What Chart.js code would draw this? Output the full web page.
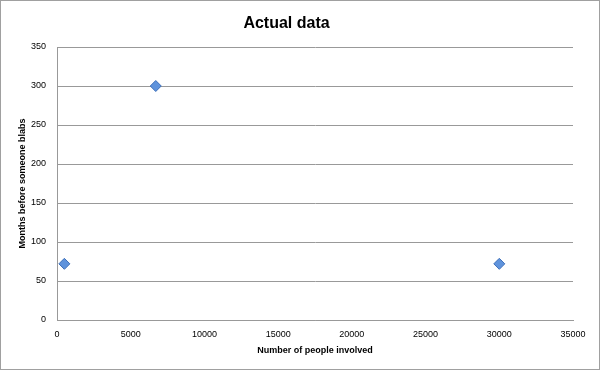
<!DOCTYPE html>
<html>
<head>
<meta charset="utf-8">
<script src="https://cdn.jsdelivr.net/npm/chart.js@4/dist/chart.umd.min.js"></script>
<style>
    body { margin: 0; background: #fff; }
    #box { width: 600px; height: 370px; }
</style>
</head>
<body>
<div id="box"><canvas id="grafico"></canvas></div>
<script>
// dati
const peopleInvolved = [500, 6700, 30000];
const monthsBeforeBlab = [72, 300, 72];

const xTicks = [0, 5000, 10000, 15000, 20000, 25000, 30000, 35000];
const yTicks = [0, 50, 100, 150, 200, 250, 300, 350];

const titolo = "Actual data";
const titoloX = "Number of people involved";
const titoloY = "Months before someone blabs";

let punti = [];
for (let i = 0; i < peopleInvolved.length; i++) {
    punti.push({x: peopleInvolved[i], y: monthsBeforeBlab[i]});
}

// cornice grigia attorno a tutto
const cornice = {
    id: 'cornice',
    afterDraw(chart) {
        let ctx = chart.ctx;
        ctx.save();
        ctx.strokeStyle = '#a0a0a0';
        ctx.lineWidth = 1;
        ctx.strokeRect(0.5, 0.5, chart.width - 1, chart.height - 1);
        ctx.restore();
    }
};

const fontBase = "'Liberation Sans', Arial, sans-serif";

new Chart("grafico", {
    type: "scatter",
    data: {
        datasets: [{
            data: punti,
            pointStyle: 'rectRot',
            pointRadius: 5.5,
            pointHoverRadius: 5.5,
            backgroundColor: '#5f93dc',
            borderColor: '#3d6fb9',
            borderWidth: 1
        }]
    },
    options: {
        responsive: true,
        maintainAspectRatio: false,
        animation: false,
        layout: {padding: {left: 0, right: 27, top: 0, bottom: 0}},
        plugins: {
            legend: {display: false},
            tooltip: {enabled: false},
            title: {
                display: true,
                text: titolo,
                color: '#000',
                font: {family: fontBase, size: 16, weight: 'bold'},
                padding: {top: 14, bottom: 13.8}
            }
        },
        scales: {
            x: {
                type: 'linear',
                min: xTicks[0],
                max: xTicks[xTicks.length - 1],
                afterBuildTicks: (s) => { s.ticks = xTicks.map(v => ({value: v})); },
                afterFit: (s) => { s.height = 50; },
                grid: {display: false, drawTicks: false},
                border: {display: true, color: '#999'},
                ticks: {
                    color: '#000',
                    padding: 9,
                    maxRotation: 0,
                    font: {family: fontBase, size: 9},
                    callback: (v) => String(v)
                },
                title: {
                    display: true,
                    text: titoloX,
                    color: '#000',
                    font: {family: fontBase, size: 9, weight: 'bold'},
                    padding: {top: 0, bottom: 14}
                }
            },
            y: {
                min: yTicks[0],
                max: yTicks[yTicks.length - 1],
                afterBuildTicks: (s) => { s.ticks = yTicks.map(v => ({value: v})); },
                afterFit: (s) => { s.width = 57; },
                grid: {color: '#999', drawTicks: false},
                border: {display: true, color: '#999'},
                ticks: {
                    color: '#000',
                    padding: 11,
                    font: {family: fontBase, size: 9},
                    callback: (v) => String(v)
                },
                title: {
                    display: true,
                    text: titoloY,
                    color: '#000',
                    font: {family: fontBase, size: 9, weight: 'bold'},
                    padding: {top: 17, bottom: 0}
                }
            }
        }
    },
    plugins: [cornice]
});
</script>
</body>
</html>
